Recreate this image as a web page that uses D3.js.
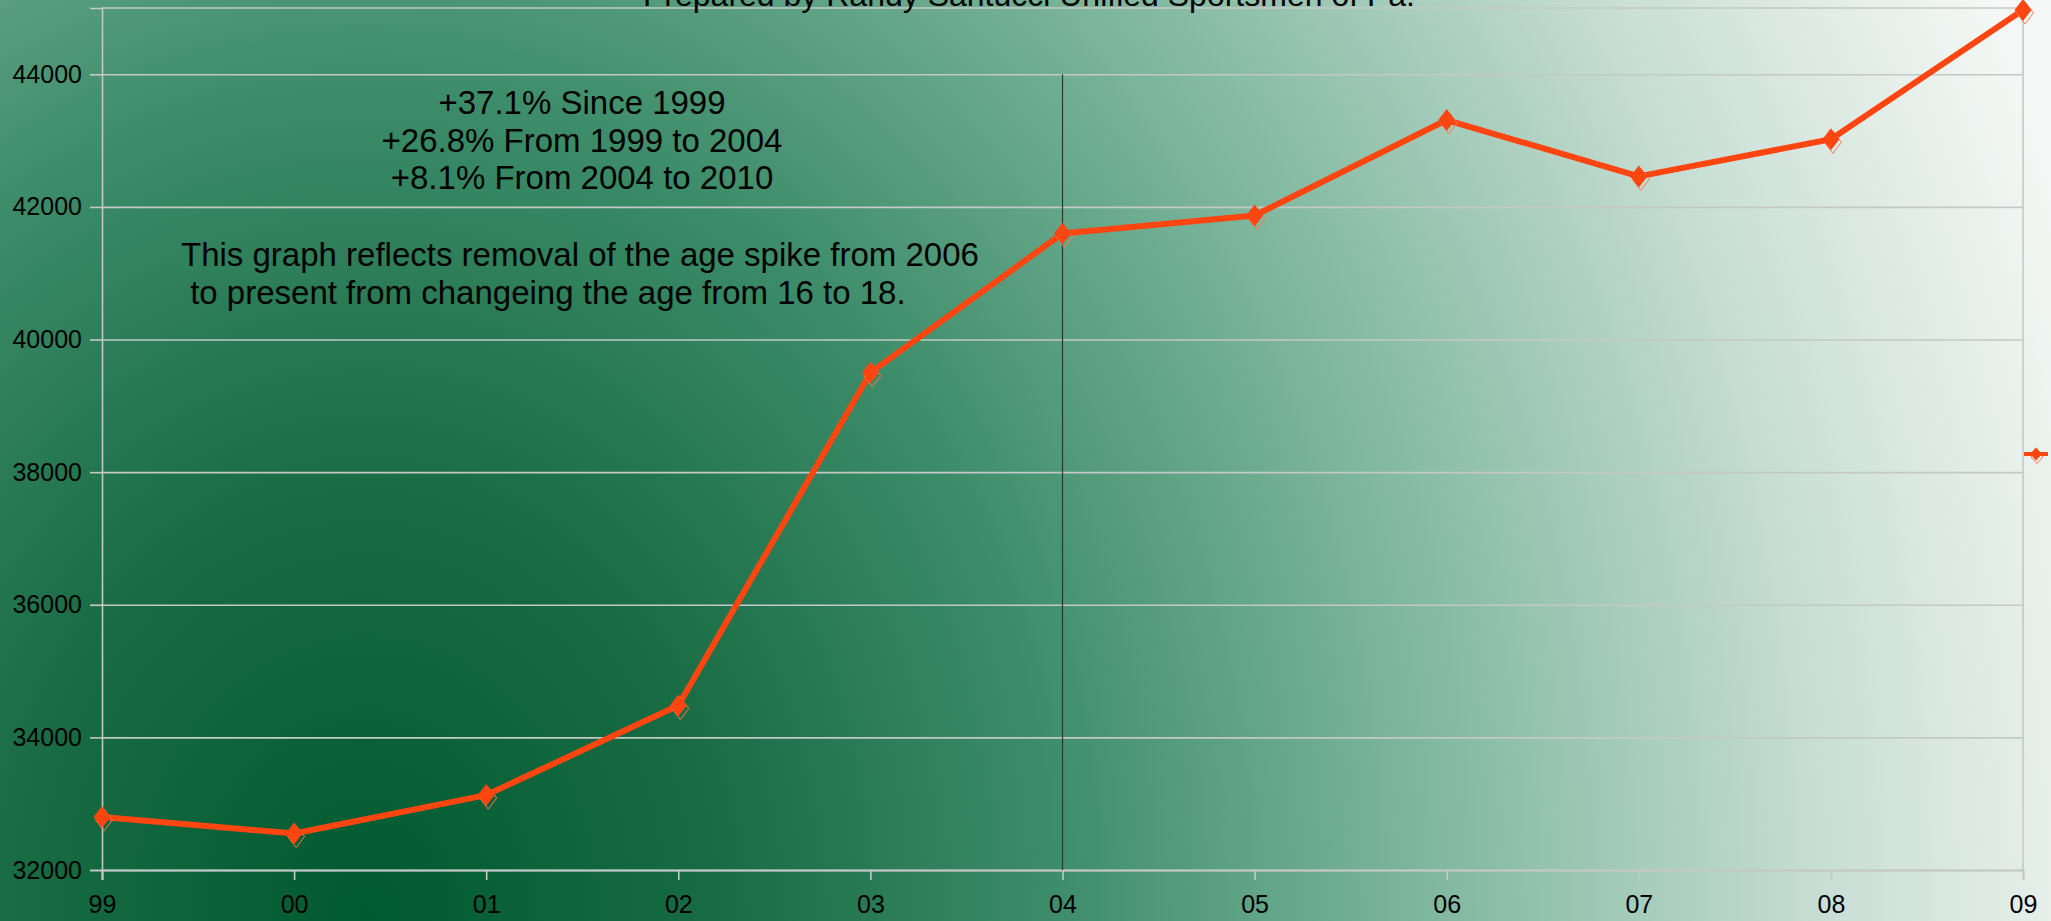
<!DOCTYPE html>
<html>
<head>
<meta charset="utf-8">
<script src="https://cdn.jsdelivr.net/npm/d3@7"></script>
<style>
  html, body { margin: 0; padding: 0; background: #fff; overflow: hidden; }
  svg { display: block; font-family: "Liberation Sans", Arial, sans-serif; }
</style>
</head>
<body>
<svg id="chart" width="2051" height="921"></svg>
<script>
// ---- data ----
const years = ["99", "00", "01", "02", "03", "04", "05", "06", "07", "08", "09"];
const values = [32800, 32550, 33130, 34480, 39500, 41600, 41870, 43310, 42460, 43020, 44970];
const yTicks = [32000, 34000, 36000, 38000, 40000, 42000, 44000];
const titleText = "Prepared by Randy Santucci Unified Sportsmen of Pa.";
const statLines = ["+37.1% Since 1999", "+26.8% From 1999 to 2004", "+8.1% From 2004 to 2010"];
const noteLines = ["This graph reflects removal of the age spike from 2006", " to present from changeing the age from 16 to 18."];
const markerYear = "04";

(function () {
// ---- layout ----
const W = 2051, H = 921;
const pL = 102, pR = 2023, pT = 8, pB = 870;
const svg = d3.select("#chart");

// background gradient
const defs = svg.append("defs");
const cx = 366, cy = 915;
const grad = defs.append("radialGradient")
  .attr("id", "bg")
  .attr("gradientUnits", "userSpaceOnUse")
  .attr("cx", cx).attr("cy", cy).attr("r", 1800)
  .attr("fx", cx).attr("fy", cy)
  .attr("gradientTransform", `translate(${cx},${cy}) scale(1,1.2) translate(${-cx},${-cy})`);
[[0, "rgb(0,90,47)"], [0.2, "rgb(25,108,68)"], [0.38, "rgb(60,140,105)"],
 [0.6, "rgb(130,185,160)"], [0.81, "rgb(200,222,212)"], [0.925, "rgb(228,238,233)"],
 [1, "rgb(245,248,246)"]].forEach(([o, c]) => grad.append("stop").attr("offset", o).attr("stop-color", c));
svg.append("rect").attr("width", W).attr("height", H).attr("fill", "url(#bg)");

// scales
const x = d3.scalePoint().domain(years).range([pL, pR]).padding(0);
const y = d3.scaleLinear().domain([32000, 45000]).range([pB, pT]);

// gridlines
svg.append("g")
  .attr("transform", `translate(${pL},0)`)
  .call(d3.axisLeft(y).tickValues(yTicks).tickSize(-(pR - pL)).tickFormat(""))
  .call(g => g.select(".domain").remove())
  .call(g => g.selectAll("line").attr("stroke", "#c4c8c6").attr("stroke-width", 1.6));

// plot border top/right
svg.append("line").attr("x1", pL).attr("x2", pR).attr("y1", y(45000)).attr("y2", y(45000))
  .attr("stroke", "#c4c8c6").attr("stroke-width", 1.6);
svg.append("line").attr("x1", pR).attr("x2", pR).attr("y1", y(45000)).attr("y2", pB)
  .attr("stroke", "#c4c8c6").attr("stroke-width", 1.6);

// y axis
svg.append("g")
  .attr("transform", `translate(${pL},0)`)
  .call(d3.axisLeft(y).tickValues(yTicks).tickSize(12).tickPadding(8).tickFormat(d3.format("d")))
  .call(g => g.select(".domain").attr("stroke", "#c4c8c6").attr("stroke-width", 1.6))
  .call(g => g.selectAll(".tick line").attr("stroke", "#c4c8c6").attr("stroke-width", 1.6))
  .call(g => g.selectAll("text").attr("fill", "#000").attr("font-size", 25)
    .attr("font-family", "'Liberation Sans', Arial, sans-serif"));

// x axis
svg.append("g")
  .attr("transform", `translate(0,${pB})`)
  .call(d3.axisBottom(x).tickSize(10).tickPadding(15))
  .call(g => g.select(".domain").attr("stroke", "#c4c8c6").attr("stroke-width", 2))
  .call(g => g.selectAll(".tick line").attr("stroke", "#c4c8c6").attr("stroke-width", 1.6))
  .call(g => g.selectAll("text").attr("fill", "#000").attr("font-size", 25)
    .attr("font-family", "'Liberation Sans', Arial, sans-serif"));

// vertical marker line at 2004
svg.append("line")
  .attr("x1", x(markerYear)).attr("x2", x(markerYear))
  .attr("y1", y(44000)).attr("y2", pB)
  .attr("stroke", "#2a3a30").attr("stroke-width", 1.2);

// series line
const data = years.map((k, i) => ({ k, v: values[i] }));
svg.append("path")
  .datum(data)
  .attr("fill", "none")
  .attr("stroke", "#ff4510")
  .attr("stroke-width", 6)
  .attr("stroke-linejoin", "round")
  .attr("d", d3.line().x(d => x(d.k)).y(d => y(d.v)));

const diamond = (w, h) => `M0,${-h/2}L${w/2},0L0,${h/2}L${-w/2},0Z`;
const pts = svg.append("g");
pts.selectAll("path.sh").data(data).join("path")
  .attr("class", "sh")
  .attr("transform", d => `translate(${x(d.k) + 2},${y(d.v) + 3})`)
  .attr("d", diamond(17, 22))
  .attr("fill", "none").attr("stroke", "#ff7a50").attr("stroke-width", 1);
pts.selectAll("path.pt").data(data).join("path")
  .attr("class", "pt")
  .attr("transform", d => `translate(${x(d.k)},${y(d.v)})`)
  .attr("d", diamond(17, 22))
  .attr("fill", "#ff4510");

// legend key at right
const lg = svg.append("g").attr("transform", "translate(2036,454)");
lg.append("line").attr("x1", -12).attr("x2", 12).attr("stroke", "#ff4510").attr("stroke-width", 4);
lg.append("path").attr("d", diamond(12, 13)).attr("transform", "translate(1,3)")
  .attr("fill", "none").attr("stroke", "#ff7a50").attr("stroke-width", 1);
lg.append("path").attr("d", diamond(12, 13)).attr("fill", "#ff4510");

// title (clipped at top, as in the source)
svg.append("text")
  .attr("x", 1029).attr("y", 6)
  .attr("text-anchor", "middle")
  .attr("font-size", 32)
  .attr("fill", "#000")
  .text(titleText);

// annotation texts
svg.append("g").selectAll("text").data(statLines).join("text")
  .attr("x", 582).attr("y", (d, i) => 114 + i * 37.5)
  .attr("text-anchor", "middle")
  .attr("font-size", 33)
  .attr("fill", "#000")
  .text(d => d);

svg.append("g").selectAll("text").data(noteLines).join("text")
  .attr("x", 181).attr("y", (d, i) => 266 + i * 38)
  .attr("font-size", 33)
  .attr("fill", "#000")
  .attr("xml:space", "preserve")
  .style("white-space", "pre")
  .text(d => d);
})();
</script>
</body>
</html>
